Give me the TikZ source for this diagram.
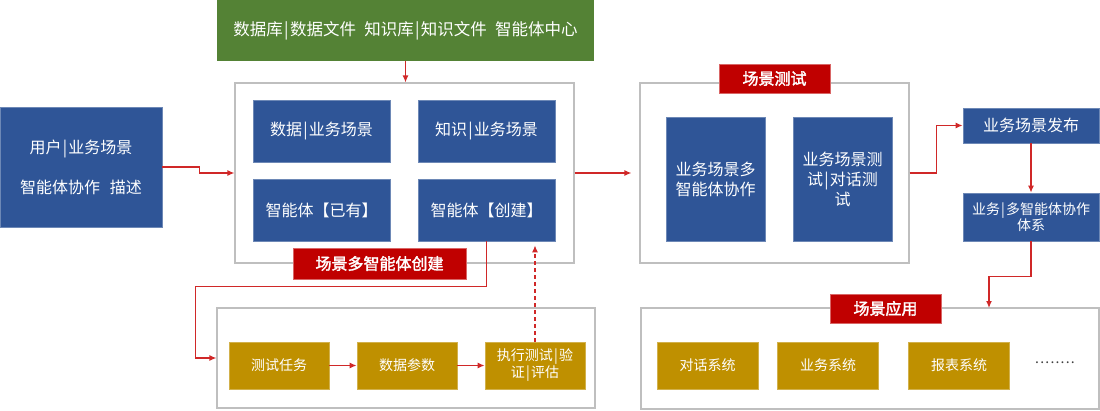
\documentclass[tikz,border=0pt]{standalone}
\usepackage{fontspec}
\setmainfont[AutoFakeBold=2]{Noto Sans CJK SC}
\usetikzlibrary{arrows.meta}
\definecolor{cblue}{HTML}{2F5597}
\definecolor{cgreen}{HTML}{548235}
\definecolor{cred}{HTML}{C00000}
\definecolor{cgold}{HTML}{BF9000}
\definecolor{cgray}{HTML}{BFBFBF}
\definecolor{cline}{HTML}{D02828}
\newcommand{\vsep}{\hspace{0.08em}|\hspace{0.08em}}
\begin{document}
\begin{tikzpicture}[x=1pt,y=-1pt,
  base/.style={inner sep=0pt,align=center,text=white},
  bluebox/.style={base,fill=cblue,draw=cblue!70!white,line width=0.8pt,font=\fontsize{16}{20}\selectfont},
  goldbox/.style={base,fill=cgold,draw=cgold!70!white,line width=0.8pt,minimum width=100,minimum height=47,font=\fontsize{14}{17}\selectfont},
  tagbox/.style={base,fill=cred,draw=cred!60!white,line width=0.8pt,font=\fontsize{16}{20}\selectfont\bfseries},
  container/.style={draw=cgray,line width=1.2pt,fill=white,inner sep=0pt},
  conn/.style={draw=cline,line width=1.2pt,-{Latex[length=7pt,width=6pt]}}
]
\useasboundingbox (0,0) rectangle (1100,410);
% top green
\node[base,fill=cgreen,minimum width=377,minimum height=61,font=\fontsize{16.5}{20}\selectfont] (G) at (405.5,30.5) {数据库\vsep 数据文件\hspace{0.5em}知识库\vsep 知识文件\hspace{0.5em}智能体中心};
% left
\node[bluebox,minimum width=162,minimum height=120,font=\fontsize{16}{40}\selectfont] (L) at (81,167) {用户\vsep 业务场景\\智能体协作\hspace{0.6em}描述};
% container 1
\node[container,minimum width=339,minimum height=180] (C1) at (404.5,173) {};
\node[bluebox,minimum width=137,minimum height=62] (D1) at (321.5,131) {数据\vsep 业务场景};
\node[bluebox,minimum width=137,minimum height=62] (D2) at (486.5,131) {知识\vsep 业务场景};
\node[bluebox,minimum width=137,minimum height=62] (D3) at (321.5,210) {智能体【已有】};
\node[bluebox,minimum width=137,minimum height=62] (K) at (486.5,210) {智能体【创建】};
\node[tagbox,minimum width=173,minimum height=31] (T1L) at (379.5,263.5) {场景多智能体创建};
% container 2
\node[container,minimum width=269,minimum height=180] (C2) at (774.5,173) {};
\node[tagbox,minimum width=111,minimum height=29] (T2L) at (774.5,78.5) {场景测试};
\node[bluebox,minimum width=99,minimum height=124] (B1) at (715.5,179) {业务场景多\\智能体协作};
\node[bluebox,minimum width=99,minimum height=124] (B2) at (842.5,179) {业务场景测\\试\vsep 对话测\\试};
% right column
\node[bluebox,minimum width=136,minimum height=35] (P) at (1031,125.5) {业务场景发布};
\node[bluebox,minimum width=136,minimum height=48,font=\fontsize{14}{16}\selectfont] (S) at (1031,217) {业务\vsep 多智能体协作\\体系};
% container 3
\node[container,minimum width=458,minimum height=101] (C3) at (870,358.5) {};
\node[tagbox,minimum width=111,minimum height=29] (T3L) at (885.5,308.5) {场景应用};
\node[goldbox,minimum width=101] (A1) at (707.5,365.5) {对话系统};
\node[goldbox,minimum width=101] (A2) at (828,365.5) {业务系统};
\node[goldbox,minimum width=101] (A3) at (959,365.5) {报表系统};
\node[inner sep=0pt,text=black!75,font=\fontsize{14}{16}\selectfont] (dots) at (1055,363) {.\hspace{1.2pt}.\hspace{1.2pt}.\hspace{1.2pt}.\hspace{1.2pt}.\hspace{1.2pt}.\hspace{1.2pt}.\hspace{1.2pt}.};
% container 4
\node[container,minimum width=378,minimum height=100] (C4) at (406,358) {};
\node[goldbox] (E1) at (279,365.5) {测试任务};
\node[goldbox] (E2) at (407,365.5) {数据参数};
\node[goldbox] (E3) at (535,365.5) {执行测试\vsep 验\\证\vsep 评估};
% connectors
\draw[conn] (G.south) -- (G.south |- C1.north);
\draw[conn] (L.east) -- ++(37,0) |- (C1.west);
\draw[conn,shorten >=8pt] (C1.east) -- (C2.west);
\draw[conn] (C2.east) -- ++(27,0) |- (P.west);
\draw[conn] (P.south) -- (S.north);
\coordinate (c3in) at (989,308);
\draw[conn] (S.south) -- ++(0,35) -| (c3in);
\draw[conn] (K.south) -- ++(0,45) -- ++(-291,0) |- (C4.west);
\draw[conn] (E1.east) -- (E2.west);
\draw[conn] (E2.east) -- (E3.west);
\draw[conn,dash pattern=on 4pt off 3pt,shorten >=4pt] (E3.north) -- (E3.north |- K.south);
\end{tikzpicture}
\end{document}
